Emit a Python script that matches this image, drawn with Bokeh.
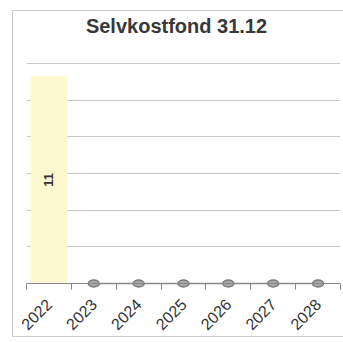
import math
from bokeh.plotting import figure
from bokeh.models import ColumnDataSource, FixedTicker, Span, Label
from bokeh.core.properties import value
from bokeh.embed import file_html
from bokeh.resources import INLINE

title_text = "Selvkostfond 31.12"
years = ["2022", "2023", "2024", "2025", "2026", "2027", "2028"]
bar_years = ["2022"]
bar_values = [11.3]
bar_labels = ["11"]
line_years = ["2023", "2024", "2025", "2026", "2027", "2028"]
line_values = [0, 0, 0, 0, 0, 0]
y_ticks = [0, 2, 4, 6, 8, 10, 12]

bar_x = [years.index(y) + 0.5 for y in bar_years]
line_x = [years.index(y) + 0.5 for y in line_years]

bar_src = ColumnDataSource(dict(x=bar_x, top=bar_values,
                                mid=[v / 2 for v in bar_values], lab=bar_labels))
line_src = ColumnDataSource(dict(x=line_x, y=line_values))

# frame spans the whole canvas height above the axis; the top holds the title
Y_BOTTOM = -0.327
Y_TOP = 14.836

p = figure(width=331, height=327, output_backend="svg", toolbar_location=None,
           x_range=(0, len(years)), y_range=(Y_BOTTOM, Y_TOP),
           min_border_left=13, min_border_right=4, min_border_top=0,
           min_border_bottom=49)
p.styles = {"margin-left": "12px", "margin-top": "10px",
            "border-left": "1px solid #cccccc", "border-top": "1px solid #cccccc",
            "border-bottom": "1px solid #cccccc"}
p.outline_line_color = None
p.background_fill_color = "white"
p.border_fill_color = "white"

p.add_layout(Label(x=3.344, y=14.07, text=title_text,
                   text_align="center", text_baseline="middle",
                   text_font="Liberation Sans", text_font_style="bold",
                   text_font_size="20px", text_color="#383838"))

p.yaxis.visible = False
p.xgrid.visible = False
p.ygrid.visible = False
p.hspan(y=y_ticks[1:], line_color="#c8c8c8", line_width=1.2)

p.vbar(x="x", top="top", width=0.82, bottom=0, source=bar_src,
       fill_color="#fdf8cf", line_color=None)
p.text(x="x", y="mid", text="lab", source=bar_src, angle=math.pi / 2,
       text_align="center", text_baseline="middle",
       text_font=value("Liberation Sans"), text_font_style="bold",
       text_font_size="13px", text_color="#333333")

p.add_layout(Span(location=0, dimension="width", line_color="#888888",
                  line_width=1.2))

p.line(x="x", y="y", source=line_src, line_color="#8a8a8a", line_width=1.5)
p.ellipse(x="x", y="y", width=11, height=7, width_units="screen",
          height_units="screen", source=line_src,
          fill_color="#a8a8a8", line_color="#7a7a7a", line_width=1.5)

ax = p.xaxis[0]
ax.ticker = FixedTicker(ticks=[i + 0.5 for i in range(len(years))],
                        minor_ticks=list(range(len(years) + 1)))
ax.major_label_overrides = {i + 0.5: y for i, y in enumerate(years)}
ax.major_label_orientation = math.pi / 4
ax.major_tick_line_color = None
ax.major_tick_out = 0
ax.major_tick_in = 0
ax.minor_tick_out = 0
ax.minor_tick_in = 6
ax.minor_tick_line_color = "#888888"
ax.axis_line_color = None
ax.major_label_text_font = "Liberation Sans"
ax.major_label_text_font_size = "16px"
ax.major_label_text_color = "#333333"
ax.major_label_standoff = 12

open("out.html", "w").write(file_html(p, INLINE))
